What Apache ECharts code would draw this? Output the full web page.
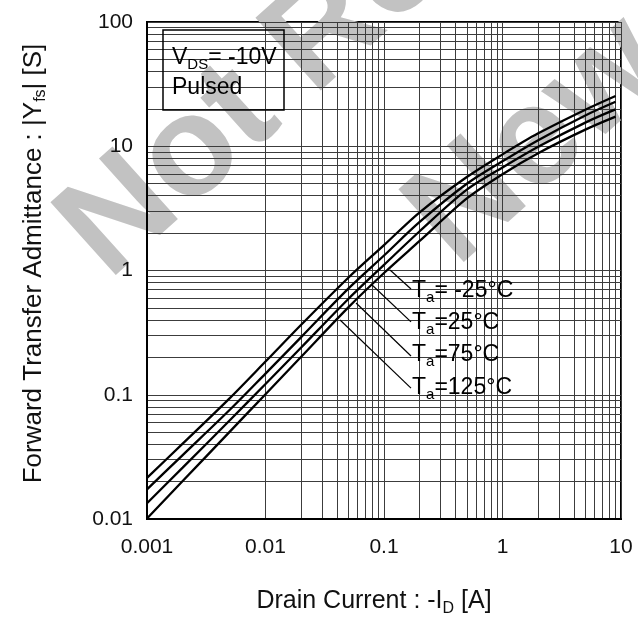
<!DOCTYPE html>
<html><head><meta charset="utf-8">
<script src="https://cdn.jsdelivr.net/npm/echarts@6/dist/echarts.min.js"></script>
<style>html,body{margin:0;padding:0;background:#fff}#c{width:638px;height:617px}</style>
</head><body><div id="c"></div>
<script>
// ---- data ----
const drainCurrent = [0.001,0.002,0.005,0.01,0.02,0.05,0.1,0.2,0.5,1,2,5,9];
const yfsTaM25 = [0.0214,0.0404,0.094,0.185,0.366,0.875,1.60,2.94,5.65,8.6,12.7,19.7,25.4];
const yfsTa25  = [0.0173,0.0327,0.0757,0.148,0.291,0.714,1.32,2.46,4.99,7.57,11.2,17.7,22.8];
const yfsTa75  = [0.0134,0.0259,0.0624,0.122,0.240,0.590,1.11,2.07,4.47,6.74,9.9,15.5,19.8];
const yfsTa125 = [0.0101,0.0202,0.0505,0.101,0.202,0.505,0.955,1.73,3.80,5.96,8.79,13.6,17.3];
const seriesNames = ['Ta=-25°C','Ta=25°C','Ta=75°C','Ta=125°C'];
const xTicks = [0.001,0.01,0.1,1,10];
const yTicks = [0.01,0.1,1,10,100];
// leader lines (label -> curve), data coords
const leaderM25 = [[0.169,0.710],[0.1125,1.01]];
const leader25  = [[0.169,0.386],[0.0793,0.764]];
const leader75  = [[0.169,0.205],[0.0581,0.547]];
const leader125 = [[0.169,0.113],[0.0426,0.400]];

const FONT = '"Liberation Sans", Arial, Helvetica, sans-serif';
const pair = (xs, ys) => xs.map((x,i)=>[x, ys[i]]);
function minorGrid(ticks){
  const out=[];
  for(let i=0;i<ticks.length;i++){
    out.push(ticks[i]);
    if(i<ticks.length-1) for(let k=2;k<=9;k++) out.push(+(ticks[i]*k).toPrecision(3));
  }
  return out;
}
const xGrid = minorGrid(xTicks), yGrid = minorGrid(yTicks);
const fmt = v => String(+(+v).toPrecision(3));

const curveStyle = {color:'#000', width:2.3};
function curve(name, ys){
  return {name, type:'line', data: pair(drainCurrent, ys), smooth:0.3, symbol:'none',
    lineStyle:curveStyle, z:5, silent:true};
}
function leader(pts){
  return {type:'line', data: pts, symbol:'none', lineStyle:{color:'#000', width:1.2}, z:5, silent:true};
}
function subRich(big, small, drop){
  return {
    n:{fontSize:big, fontFamily:FONT, color:'#111', lineHeight:big, verticalAlign:'top'},
    s:{fontSize:small, fontFamily:FONT, color:'#111', lineHeight:small, padding:[drop,0,0,0], verticalAlign:'top'}
  };
}
const labRich = subRich(23, 15, 11);
const WM_ANGLE = 42 * Math.PI / 180;

const chart = echarts.init(document.getElementById('c'), null, {renderer:'canvas'});
chart.setOption({
  animation:false,
  backgroundColor:'#fff',
  grid:{left:147, top:22, right:17, bottom:98, show:true, borderColor:'#000', borderWidth:2, backgroundColor:'#fff',
    containLabel:false, outerBoundsMode:'none'},
  xAxis:{type:'log', logBase:10, min:xTicks[0], max:xTicks[xTicks.length-1], z:6,
    axisLine:{show:true, lineStyle:{color:'#000', width:2}}, axisTick:{show:false}, splitLine:{show:false},
    axisLabel:{fontSize:21, fontFamily:FONT, color:'#111', margin:18, formatter:fmt},
    name:'{n|Drain Current : -I}{s|D}{n| [A]}', nameLocation:'middle', nameGap:70,
    nameTextStyle:{rich:subRich(25,16,12), padding:[0,20,0,0]}},
  yAxis:{type:'log', logBase:10, min:yTicks[0], max:yTicks[yTicks.length-1], z:6,
    axisLine:{show:true, lineStyle:{color:'#000', width:2}}, axisTick:{show:false}, splitLine:{show:false},
    axisLabel:{fontSize:21, fontFamily:FONT, color:'#111', margin:14, formatter:fmt},
    name:'{n|Forward Transfer Admittance : |Y}{s|fs}{n|| [S]}', nameLocation:'middle', nameGap:100,
    nameTextStyle:{rich:subRich(26,16,12), padding:[0,0,0,14]}},
  series:[
    {type:'line', data:[], z:1, silent:true, symbol:'none',
      markLine:{silent:true, symbol:['none','none'], label:{show:false}, animation:false,
        lineStyle:{color:'#3c3c3c', width:1, type:'solid'}, emphasis:{disabled:true},
        data:[...xGrid.map(v=>({xAxis:v})), ...yGrid.map(v=>({yAxis:v}))]}},
    curve(seriesNames[0], yfsTaM25),
    curve(seriesNames[1], yfsTa25),
    curve(seriesNames[2], yfsTa75),
    curve(seriesNames[3], yfsTa125),
    leader(leaderM25), leader(leader25), leader(leader75), leader(leader125)
  ],
  graphic:[
    {type:'rect', z:2, shape:{x:410,y:269,width:108,height:139}, style:{fill:'#fff'}},
    {type:'rect', z:2, shape:{x:163,y:30,width:121,height:80}, style:{fill:'#fff'}},
    {type:'text', z:3, x:130, y:305, rotation:WM_ANGLE,
      style:{text:'Not Recommended', font:'bold 142px '+FONT, fill:'#c2c2c2', align:'left', verticalAlign:'bottom'}},
    {type:'text', z:3, x:478, y:292, rotation:WM_ANGLE,
      style:{text:'New Design', font:'bold 142px '+FONT, fill:'#c2c2c2', align:'left', verticalAlign:'bottom'}},
    {type:'rect', z:6, shape:{x:163,y:30,width:121,height:80}, style:{fill:'none', stroke:'#000', lineWidth:1.5}},
    {type:'text', z:7, x:172, y:46, style:{text:'{n|V}{s|DS}{n|= -10V}', rich:labRich}},
    {type:'text', z:7, x:172, y:76, style:{text:'{n|Pulsed}', rich:labRich}},
    {type:'text', z:7, x:412, y:279, style:{text:'{n|T}{s|a}{n|= -25°C}', rich:labRich}},
    {type:'text', z:7, x:412, y:311, style:{text:'{n|T}{s|a}{n|=25°C}', rich:labRich}},
    {type:'text', z:7, x:412, y:343, style:{text:'{n|T}{s|a}{n|=75°C}', rich:labRich}},
    {type:'text', z:7, x:412, y:376, style:{text:'{n|T}{s|a}{n|=125°C}', rich:labRich}}
  ]
});
</script></body></html>
